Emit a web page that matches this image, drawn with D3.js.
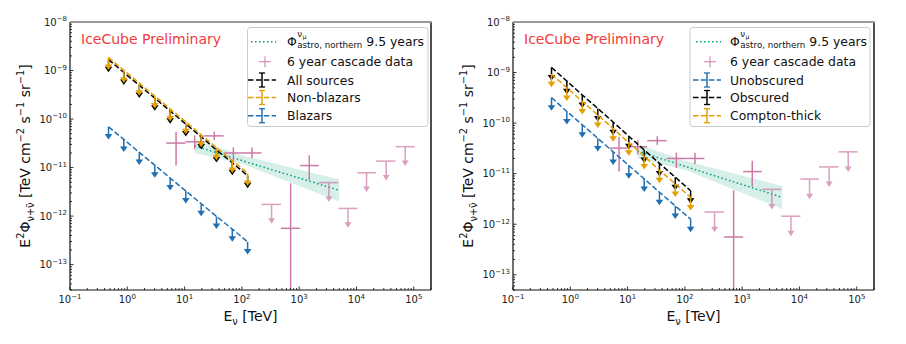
<!DOCTYPE html>
<html>
<head>
<meta charset="utf-8">
<script src="https://cdn.jsdelivr.net/npm/d3@7"></script>
<style>
  body { margin: 0; background: #fff; }
  svg { font-family: "DejaVu Sans", sans-serif; }
</style>
</head>
<body>
<svg id="chart" width="906" height="344"></svg>
<script>
// energies of the stacking upper limits [TeV]
const stackE = [0.47, 0.87, 1.62, 3.02, 5.6, 10.5, 19.5, 36, 68, 126]

// left panel upper limits, E^2 flux [TeV cm^-2 s^-1 sr^-1]
const allSources = [1.68e-9, 9.1e-10, 4.95e-10, 2.7e-10, 1.46e-10, 7.9e-11, 4.3e-11, 2.3e-11, 1.26e-11, 6.8e-12]
const nonBlazars = [1.87e-9, 1.01e-9, 5.5e-10, 2.99e-10, 1.62e-10, 8.8e-11, 4.75e-11, 2.58e-11, 1.4e-11, 7.6e-12]
const blazars = [6.9e-11, 3.8e-11, 2.05e-11, 1.12e-11, 6.1e-12, 3.3e-12, 1.8e-12, 9.9e-13, 5.4e-13, 2.95e-13]

// right panel upper limits
const unobscured = [3.2e-10, 1.7e-10, 9.3e-11, 5.0e-11, 2.7e-11, 1.45e-11, 7.9e-12, 4.3e-12, 2.3e-12, 1.26e-12]
const obscured = [1.26e-9, 6.8e-10, 3.6e-10, 1.95e-10, 1.05e-10, 5.5e-11, 2.95e-11, 1.6e-11, 8.5e-12, 4.6e-12]
const comptonThick = [9.3e-10, 5.0e-10, 2.7e-10, 1.45e-10, 7.8e-11, 4.1e-11, 2.2e-11, 1.17e-11, 6.3e-12, 3.4e-12]

// 6 year cascade data
const cascE = [7.1, 15, 33, 71, 150, 330, 710, 1500, 3300, 7100, 15000, 33000, 71000]
const cascELo = [4.8, 10.4, 22, 48, 104, 220, 480, 1040, 2200, 4800, 10400, 22000, 48000]
const cascEHi = [10.4, 22, 48, 104, 220, 480, 1040, 2200, 4800, 10400, 22000, 48000, 104000]
const cascFlux = [3.2e-11, 3.4e-11, 4.5e-11, 2.0e-11, 2.0e-11, 1.74e-12, 5.6e-13, 1.1e-11, 4.9e-12, 1.44e-12, 7.8e-12, 1.36e-11, 2.7e-11]
const cascLo = [1.1e-11, 2.4e-11, 3.7e-11, 1.3e-11, 1.55e-11, null, 1e-16, 5.5e-12, null, null, null, null, null]
const cascHi = [5.4e-11, 4.6e-11, 5.5e-11, 2.6e-11, 2.6e-11, null, 4.7e-12, 1.8e-11, null, null, null, null, null]
const cascUL = [false, false, false, false, false, true, false, false, true, true, true, true, true]

// northern tracks 9.5 years
const astroE = [15, 100, 5000]
const astroFlux = [2.8e-11, 1.4e-11, 3.4e-12]
const astroLo = [2.0e-11, 1.2e-11, 2.0e-12]
const astroHi = [3.8e-11, 1.8e-11, 5.7e-12]

const xTicks = [1e-1, 1e0, 1e1, 1e2, 1e3, 1e4, 1e5]
const xTickExp = ['−1', '0', '1', '2', '3', '4', '5']
const yTicks = [1e-8, 1e-9, 1e-10, 1e-11, 1e-12, 1e-13]
const yTickExp = ['−8', '−9', '−10', '−11', '−12', '−13']

const orange = '#e69f00'
const blue = '#1f6fb2'
const pink = '#cc79a7'
const green = '#009e73'

const svg = d3.select('#chart')

const panels = [
    { id: 'l', x0: 70, x1: 431, yMin: 3e-14, prelimX: 81, legX: 247.5, legW: 180.5, handleX: 262, textX: 287,
      series: [['All sources', allSources, '#000'], ['Non-blazars', nonBlazars, orange], ['Blazars', blazars, blue]] },
    { id: 'r', x0: 513, x1: 874, yMin: 5e-14, prelimX: 524, legX: 690, legW: 180, handleX: 707, textX: 730,
      series: [['Unobscured', unobscured, blue], ['Obscured', obscured, '#000'], ['Compton-thick', comptonThick, orange]] }
]
const yTop = 22, yBot = 290

// text with super/subscripts, parts = [[str, 'n'|'sup'|'sub'], ...]
function richText(sel, parts, size) {
    const t = sel.append('text').attr('font-size', size)
    let off = 0
    parts.forEach(([s, kind]) => {
        const target = kind == 'sup' ? -0.42 * size : kind == 'sub' ? 0.25 * size : 0
        t.append('tspan')
            .attr('dy', target - off)
            .attr('font-size', kind == 'n' ? size : size * 0.7)
            .text(s)
        off = target
    })
    return t
}

function arrowHead(g, x, tip, color, w) {
    g.append('path')
        .attr('d', `M${x - w},${tip - 5.5}L${x + w},${tip - 5.5}L${x},${tip}Z`)
        .attr('fill', color)
}

panels.forEach(p => {
    const x = d3.scaleLog().domain([0.1, 2e5]).range([p.x0, p.x1])
    const y = d3.scaleLog().domain([p.yMin, 1e-8]).range([yBot, yTop])
    const g = svg.append('g')

    g.append('clipPath').attr('id', 'clip' + p.id)
        .append('rect').attr('x', p.x0).attr('y', yTop).attr('width', p.x1 - p.x0).attr('height', yBot - yTop)
    const plot = g.append('g').attr('clip-path', `url(#clip${p.id})`)

    // astro band + best fit
    plot.append('path')
        .datum(astroE)
        .attr('d', d3.area().x(d => x(d)).y0((d, i) => y(astroLo[i])).y1((d, i) => y(astroHi[i])))
        .attr('fill', green).attr('fill-opacity', 0.16)
    plot.append('path')
        .datum(astroE)
        .attr('d', d3.line().x(d => x(d)).y((d, i) => y(astroFlux[i])))
        .attr('fill', 'none').attr('stroke', green).attr('stroke-width', 1.5)
        .attr('stroke-dasharray', '1.5,2.5')

    // cascade data
    cascE.forEach((e, i) => {
        if (cascUL[i]) {
            const c = plot.append('g').attr('opacity', 0.7)
            c.append('line').attr('x1', x(cascELo[i])).attr('x2', x(cascEHi[i]))
                .attr('y1', y(cascFlux[i])).attr('y2', y(cascFlux[i]))
                .attr('stroke', pink).attr('stroke-width', 1.5)
            const tip = y(cascFlux[i] * 0.4)
            c.append('line').attr('x1', x(e)).attr('x2', x(e))
                .attr('y1', y(cascFlux[i])).attr('y2', tip - 4)
                .attr('stroke', pink).attr('stroke-width', 1.5)
            arrowHead(c, x(e), tip, pink, 3.5)
        } else {
            plot.append('line').attr('x1', x(cascELo[i])).attr('x2', x(cascEHi[i]))
                .attr('y1', y(cascFlux[i])).attr('y2', y(cascFlux[i]))
                .attr('stroke', pink).attr('stroke-width', 1.5)
            plot.append('line').attr('x1', x(e)).attr('x2', x(e))
                .attr('y1', y(cascHi[i])).attr('y2', y(cascLo[i]))
                .attr('stroke', pink).attr('stroke-width', 1.5)
        }
    })

    // stacking upper limits
    p.series.forEach(([name, vals, color]) => {
        plot.append('path')
            .datum(vals)
            .attr('d', d3.line().x((d, i) => x(stackE[i])).y(d => y(d)))
            .attr('fill', 'none').attr('stroke', color).attr('stroke-width', 1.5)
            .attr('stroke-dasharray', '5.5,2.4')
        vals.forEach((v, i) => {
            const tip = y(v * 0.55)
            plot.append('line').attr('x1', x(stackE[i])).attr('x2', x(stackE[i]))
                .attr('y1', y(v)).attr('y2', tip - 4)
                .attr('stroke', color).attr('stroke-width', 1.5)
            arrowHead(plot, x(stackE[i]), tip, color, 3.8)
        })
    })

    // ticks (inward)
    const ax = g.append('g').attr('stroke', '#000').attr('stroke-width', 0.8)
    for (let k = -1; k <= 5; k++) {
        for (let m = 1; m < 10; m++) {
            const v = m * Math.pow(10, k)
            if (v > 2e5) continue
            const len = m == 1 ? 3.5 : 2
            ax.append('line').attr('x1', x(v)).attr('x2', x(v)).attr('y1', yBot).attr('y2', yBot - len)
        }
    }
    for (let k = -14; k <= -9; k++) {
        for (let m = 1; m < 10; m++) {
            const v = m * Math.pow(10, k)
            if (v < p.yMin || v > 1e-8) continue
            const len = m == 1 ? 3.5 : 2
            ax.append('line').attr('x1', p.x0).attr('x2', p.x0 + len).attr('y1', y(v)).attr('y2', y(v))
        }
    }
    ax.append('line').attr('x1', p.x0).attr('x2', p.x0 + 3.5).attr('y1', y(1e-8)).attr('y2', y(1e-8))

    // tick labels
    xTicks.forEach((v, i) => {
        richText(g, [['10', 'n'], [xTickExp[i], 'sup']], 10)
            .attr('x', x(v)).attr('y', 303).attr('text-anchor', 'middle').attr('fill', '#222')
    })
    yTicks.forEach((v, i) => {
        richText(g, [['10', 'n'], [yTickExp[i], 'sup']], 10)
            .attr('x', p.x0 - 3).attr('y', y(v) + 3.5).attr('text-anchor', 'end').attr('fill', '#222')
    })

    // spines
    g.append('line').attr('x1', p.x0).attr('x2', p.x0).attr('y1', yTop).attr('y2', yBot).attr('stroke', '#111').attr('stroke-width', 1.2)
    g.append('line').attr('x1', p.x0).attr('x2', p.x1).attr('y1', yBot).attr('y2', yBot).attr('stroke', '#111').attr('stroke-width', 1.2)
    g.append('line').attr('x1', p.x1).attr('x2', p.x1).attr('y1', yTop).attr('y2', yBot).attr('stroke', '#222').attr('stroke-width', 1.6)
    g.append('line').attr('x1', p.x0).attr('x2', p.x1 + 0.8).attr('y1', yTop).attr('y2', yTop).attr('stroke', '#999').attr('stroke-width', 2)

    // axis labels
    richText(g, [['E', 'n'], ['ν', 'sub'], [' [TeV]', 'n']], 14)
        .attr('x', (p.x0 + p.x1) / 2).attr('y', 321).attr('text-anchor', 'middle').attr('fill', '#111')
    richText(g, [['E', 'n'], ['2', 'sup'], ['Φ', 'n'], ['ν+ν̄', 'sub'], [' [TeV cm', 'n'], ['−2', 'sup'],
        [' s', 'n'], ['−1', 'sup'], [' sr', 'n'], ['−1', 'sup'], [']', 'n']], 14)
        .attr('text-anchor', 'middle').attr('fill', '#111')
        .attr('transform', `translate(${p.x0 - 40},${(yTop + yBot) / 2}) rotate(-90)`)

    g.append('text').attr('x', p.prelimX).attr('y', 44).attr('font-size', 14).attr('fill', '#f23b3b')
        .text('IceCube Preliminary')

    // legend
    const leg = g.append('g')
    leg.append('rect').attr('x', p.legX).attr('y', 27.5).attr('width', p.legW).attr('height', 99)
        .attr('rx', 3).attr('fill', '#fff').attr('fill-opacity', 0.8).attr('stroke', '#ccc').attr('stroke-width', 1)
    const rows = [41.7, 61.7, 80, 97.5, 115.7]
    const hx = p.handleX
    leg.append('line').attr('x1', hx - 11).attr('x2', hx + 14).attr('y1', rows[0]).attr('y2', rows[0])
        .attr('stroke', green).attr('stroke-width', 1.5).attr('stroke-dasharray', '1.5,2.5')
    const phi = leg.append('text').attr('x', p.textX).attr('y', 46.3).attr('font-size', 12.4).attr('fill', '#111').text('Φ')
    const px = p.textX + phi.node().getComputedTextLength() + 0.5
    leg.append('text').attr('x', px).attr('y', 37).attr('font-size', 8.7).attr('fill', '#111').text('ν')
    leg.append('text').attr('x', px + 5.2).attr('y', 38.6).attr('font-size', 6.2).attr('fill', '#111').text('μ')
    const sub = leg.append('text').attr('x', px).attr('y', 48).attr('font-size', 8.7).attr('fill', '#111').text('astro, northern')
    leg.append('text').attr('x', px + sub.node().getComputedTextLength() + 4).attr('y', 46.3)
        .attr('font-size', 12.4).attr('fill', '#111').text('9.5 years')

    leg.append('line').attr('x1', hx - 3).attr('x2', hx + 9).attr('y1', rows[1]).attr('y2', rows[1])
        .attr('stroke', pink).attr('stroke-opacity', 0.75).attr('stroke-width', 1.3)
    leg.append('line').attr('x1', hx + 3).attr('x2', hx + 3).attr('y1', rows[1] - 5.5).attr('y2', rows[1] + 5.5)
        .attr('stroke', pink).attr('stroke-opacity', 0.75).attr('stroke-width', 1.3)
    leg.append('text').attr('x', p.textX).attr('y', rows[1] + 4.5).attr('font-size', 12.4).attr('fill', '#111')
        .text('6 year cascade data')

    p.series.forEach(([name, vals, color], i) => {
        const ry = rows[2 + i]
        leg.append('line').attr('x1', hx - 14).attr('x2', hx + 14).attr('y1', ry).attr('y2', ry)
            .attr('stroke', color).attr('stroke-width', 1.5).attr('stroke-dasharray', '5.5,2.4')
        leg.append('line').attr('x1', hx).attr('x2', hx).attr('y1', ry - 7).attr('y2', ry + 7)
            .attr('stroke', color).attr('stroke-width', 1.5)
        leg.append('line').attr('x1', hx - 3).attr('x2', hx + 3).attr('y1', ry - 7).attr('y2', ry - 7)
            .attr('stroke', color).attr('stroke-width', 1.3)
        leg.append('line').attr('x1', hx - 3).attr('x2', hx + 3).attr('y1', ry + 7).attr('y2', ry + 7)
            .attr('stroke', color).attr('stroke-width', 1.3)
        leg.append('text').attr('x', p.textX).attr('y', ry + 4.5).attr('font-size', 12.4).attr('fill', '#111')
            .text(name)
    })
})
</script>
</body>
</html>
